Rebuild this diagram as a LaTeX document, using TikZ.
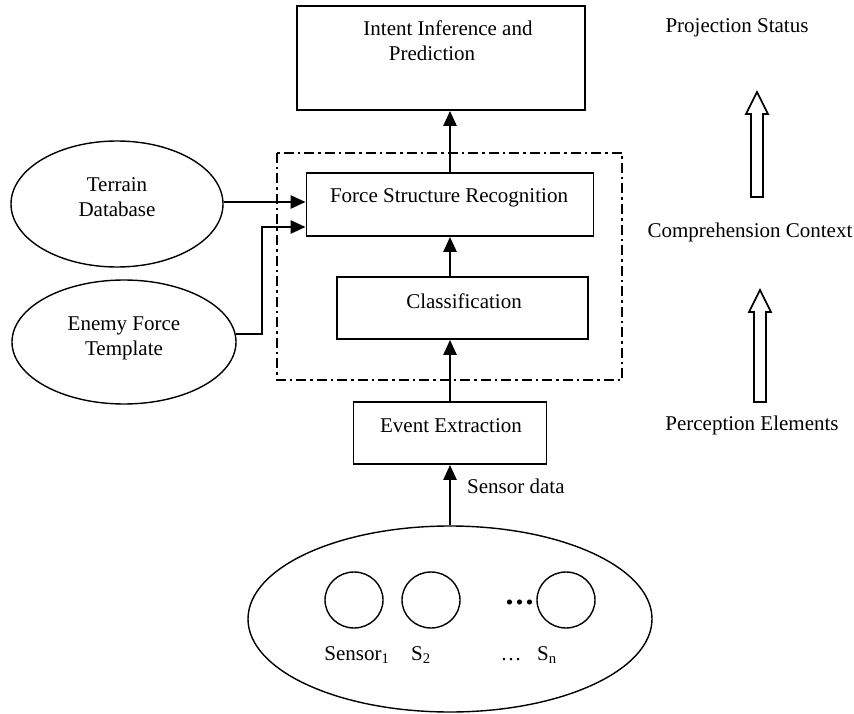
\documentclass[tikz,border=0pt]{standalone}
\usepackage{fontspec}
\setmainfont{Liberation Serif}
\usetikzlibrary{arrows.meta,shapes.geometric}
\begin{document}
\begin{tikzpicture}[x=1pt,y=-1pt,
  every node/.style={font=\fontsize{21}{25}\selectfont},
  box/.style={draw,line width=1.8pt,rectangle,inner sep=0pt},
  oval/.style={draw,line width=1.4pt,ellipse,inner sep=0pt},
  txt/.style={inner sep=0pt,align=center},
  arr/.style={line width=2.5pt,-{Triangle[length=15pt,width=13pt]}},
  dashdot/.style={line width=1.5pt,dash pattern=on 10pt off 4pt on 2.5pt off 4pt},
  hollow/.style={draw,line width=1.6pt,fill=white}]
\useasboundingbox (0,0) rectangle (854,714);

% boxes
\node[box,minimum width=288pt,minimum height=104pt] (intent) at (441,58) {};
\node[txt] (intentT) at (448,41) {Intent Inference and\\Prediction\hspace*{32pt}};
\node[box,minimum width=287pt,minimum height=63pt] (force) at (450,204.5) {};
\node[txt] (forceT) at (449,198) {Force Structure Recognition};
\node[box,minimum width=251pt,minimum height=62pt] (classif) at (462.5,308) {};
\node[txt] (classifT) at (464,301) {Classification};
\node[box,minimum width=193pt,minimum height=62pt] (event) at (450,433) {};
\node[txt] (eventT) at (451,426) {Event Extraction};

% dash-dot group
\draw[dashdot] (277,153) rectangle (622,380);

% ellipses
\node[oval,minimum width=212pt,minimum height=126pt] (terrain) at (117,204) {};
\node[txt] (terrainT) at (117,197) {Terrain\\Database};
\node[oval,minimum width=224pt,minimum height=124pt] (enemy) at (124,342) {};
\node[txt] (enemyT) at (124,338) {Enemy Force\\Template};

% sensors
\node[oval,minimum width=404pt,minimum height=186pt] (sensors) at (450,619) {};
\node[oval,minimum width=58pt,minimum height=56pt] (s1) at (354,600) {};
\node[oval,minimum width=58pt,minimum height=56pt] (s2) at (431,600) {};
\node[oval,minimum width=58pt,minimum height=56pt] (sn) at (566,600) {};
\fill (509.5,602) circle (2.6pt) (519.5,602) circle (2.6pt) (529.5,602) circle (2.6pt);
\node[txt,anchor=base] (l1) at (357,660) {Sensor\textsubscript{1}};
\node[txt,anchor=base] (l2) at (421,660) {S\textsubscript{2}};
\node[txt,anchor=base] (ld) at (511,660) {\dots};
\node[txt,anchor=base] (ln) at (547,660) {S\textsubscript{n}};

% connectors
\draw[arr] (force.north) -- (force.north |- intent.south);
\draw[arr] (force.south |- classif.north) -- (force.south);
\draw[arr] (event.north) -- (event.north |- classif.south);
\draw[arr] (sensors.north) -- (event.south);
\node[txt,anchor=west] (sdata) at (467,486) {Sensor data};
\coordinate (tj) at (262,202);
\draw[arr] (terrain.east |- tj) -- (tj -| force.west);
\coordinate (ej) at (262,227);
\draw[arr] (enemy.4) -| (ej) -- (ej -| force.west);

% right column
\node[txt] (proj) at (737,28) {Projection Status};
\node[txt] (comp) at (750,232) {Comprehension Context};
\node[txt] (perc) at (752,425) {Perception Elements};
\draw[hollow] (751,197) -- (751,114) -- (746,114) -- (757,92) -- (768,114) -- (763,114) -- (763,197) -- cycle;
\draw[hollow] (754,402) -- (754,312) -- (749,312) -- (760,290) -- (771,312) -- (766,312) -- (766,402) -- cycle;
\end{tikzpicture}
\end{document}
